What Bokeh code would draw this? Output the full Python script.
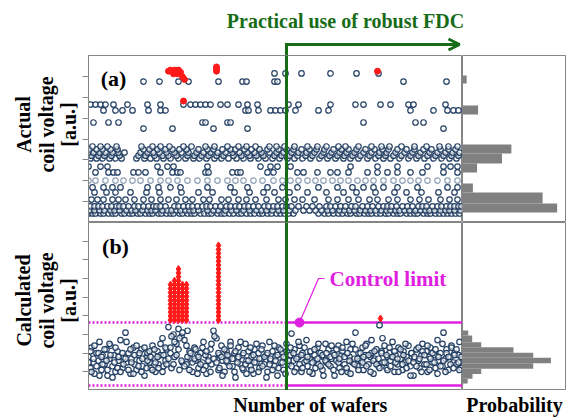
from bokeh.plotting import figure
from bokeh.layouts import column, row
from bokeh.models import FixedTicker, Arrow, OpenHead, Span, CustomJSTickFormatter
from bokeh.core.properties import value
from bokeh.embed import file_html
from bokeh.resources import INLINE

SERIF = "Liberation Serif"
NAVY = "#233f63"
LIGHT = "#8fa2b8"
RED = "#ff1a1a"
GREEN = "#176c17"
MAGENTA = "#e020e0"
HIST = "#808080"
FRAME = "#858585"

X_MAX = 374          # number of wafers (axis span)
fdc_start = 198      # wafer where robust FDC starts
control_limit = 3.64
lower_limit = 0.27

# ---------------- panel (a): actual coil voltage, rows of points ----------------
a_levels = [0.43, 0.58, 0.77, 1.10, 1.44, 1.68, 2.40, 2.68, 3.07, 3.20, 3.35, 3.50, 3.64, 4.50, 4.79, 5.37, 5.65,
            6.75, 7.14]
a_r043 = [0, 4, 7, 12, 15, 20, 24, 27, 33, 36, 41, 44, 49, 52, 57, 61, 64, 70, 73, 78, 82, 85, 91, 94, 99, 103, 106,
          112, 116, 120, 123, 129, 133, 136, 141, 145, 150, 153, 158, 162, 166, 171, 174, 179, 183, 188, 192, 196, 200,
          205, 230, 236, 240, 245, 250, 254, 259, 262, 268, 271, 276, 280, 283, 288, 292, 297, 300, 305, 309, 312, 318,
          322, 326, 329, 335, 339, 342, 347, 351, 355, 359, 363, 367, 371]
a_r058 = [1, 6, 11, 16, 22, 26, 31, 38, 43, 47, 54, 59, 63, 67, 74, 79, 83, 88, 92, 97, 101, 105, 110, 119, 125, 130,
          137, 143, 148, 155, 161, 168, 173, 178, 184, 190, 195, 201, 207, 215, 221, 227, 233, 239, 244, 251, 256, 261,
          266, 272, 277, 282, 287, 293, 298, 302, 307, 311, 316, 321, 327, 332, 337, 341, 346, 352, 357, 361, 366, 372]
a_r077 = [2, 6, 10, 14, 19, 23, 28, 31, 35, 40, 46, 50, 55, 60, 65, 68, 72, 77, 86, 90, 95, 100, 104, 109, 114, 118,
          122, 127, 132, 138, 142, 147, 151, 156, 160, 165, 170, 176, 180, 185, 189, 194, 198, 203, 210, 218, 224, 231,
          238, 242, 247, 252, 257, 263, 267, 274, 279, 284, 290, 295, 299, 303, 308, 314, 319, 324, 330, 334, 338, 344,
          349, 353, 358, 362, 366, 370, 373]
a_r110 = [3, 9, 15, 24, 30, 37, 46, 55, 63, 72, 80, 88, 97, 104, 115, 121, 133, 140, 150, 158, 167, 178, 190, 197, 206,
          214, 226, 240, 249, 260, 270, 281, 289, 300, 309, 322, 331, 340, 352, 361, 369]
a_r144 = [6, 18, 27, 42, 58, 71, 93, 110, 124, 146, 161, 175, 186, 201, 219, 238, 255, 268, 287, 306, 318, 333, 350, 366]
a_r168 = [4, 15, 24, 32, 59, 70, 82, 92, 119, 142, 159, 179, 194, 209, 230, 249, 264, 275, 285, 295, 309, 329, 359, 369]
a_r240 = [7, 20, 25, 29, 45, 50, 57, 72, 84, 89, 92, 117, 120, 144, 149, 152, 179, 185, 209, 215, 229, 242, 249, 260,
          279, 289, 299, 309, 322, 334, 355, 369]
a_r268 = [0, 12, 19, 69, 79, 85, 119, 172, 182, 189, 202, 262, 289, 309, 339, 355, 362, 369]
a_r307 = [2, 8, 14, 21, 27, 33, 48, 56, 62, 68, 75, 82, 90, 97, 105, 111, 118, 126, 133, 140, 148, 155, 162, 170, 177,
          184, 191, 199, 206, 214, 222, 231, 239, 247, 255, 262, 270, 279, 287, 295, 302, 311, 320, 328, 336, 345, 353,
          361, 368]
a_r320 = [3, 10, 16, 23, 31, 50, 57, 66, 74, 80, 88, 99, 106, 113, 120, 128, 135, 145, 153, 161, 168, 175, 186, 193,
          201, 209, 217, 224, 233, 241, 249, 256, 264, 272, 281, 290, 297, 305, 313, 322, 330, 339, 347, 355, 363, 370]
a_r335 = [0, 5, 11, 17, 24, 30, 36, 52, 59, 65, 71, 78, 86, 93, 100, 108, 115, 122, 129, 137, 144, 151, 159, 166, 173,
          181, 188, 195, 203, 210, 218, 226, 235, 243, 251, 258, 266, 275, 283, 291, 298, 307, 316, 324, 332, 341, 349,
          357, 364, 371]
a_r350 = [1, 8, 14, 22, 29, 55, 61, 69, 77, 84, 91, 98, 110, 119, 125, 134, 142, 147, 156, 163, 171, 179, 190, 198,
          205, 213, 221, 228, 236, 245, 253, 260, 268, 277, 286, 294, 300, 309, 318, 326, 335, 343, 352, 360, 367]
a_r364 = [4, 12, 19, 28, 53, 64, 72, 81, 95, 103, 117, 126, 139, 150, 158, 167, 181, 188, 196, 206, 219, 229, 238, 250,
          257, 270, 283, 293, 301, 313, 326, 338, 351, 360, 369]
a_r450 = [55, 84, 125, 159, 355]
a_r479 = [5, 20, 30, 114, 117, 139, 142, 275, 327, 335]
a_r537 = [15, 27, 34, 44, 60, 72, 77, 157, 160, 170, 182, 187, 192, 197, 207, 230, 240, 322, 345, 359, 365, 370]
a_r565 = [2, 7, 12, 17, 25, 39, 59, 72, 95, 102, 107, 112, 117, 122, 132, 139, 150, 159, 169, 200, 210, 242, 267, 275,
          292, 302, 320, 325, 357]
a_r675 = [55, 71, 90, 100, 130, 154, 158, 186, 189, 315, 358]
a_r714 = [186, 197, 213, 242, 268, 290]
a_rows = [a_r043, a_r058, a_r077, a_r110, a_r144, a_r168, a_r240, a_r268, a_r307, a_r320, a_r335, a_r350, a_r364,
          a_r450, a_r479, a_r537, a_r565, a_r675, a_r714]
# lighter row
a_light_level = 2.01
a_light_x = [0, 7, 17, 27, 35, 44, 52, 62, 72, 80, 89, 99, 109, 119, 129, 139, 147, 155, 165, 174, 185, 194, 202, 210,
             219, 227, 235, 244, 252, 260, 269, 277, 285, 295, 305, 314, 322, 330, 339, 349, 359, 369]
# faults in (a)
a_red_x = [80, 82, 84, 86, 88, 90, 92, 85, 89, 94, 96, 128, 128, 128, 95, 289]
a_red_y = [7.25, 7.3, 7.22, 7.3, 7.25, 7.3, 7.2, 7.12, 7.12, 6.98, 6.85, 7.45, 7.35, 7.25, 5.82, 7.25]

# histogram (a): probability per voltage bin
ha_bottom = [0.48, 0.91, 1.44, 2.40, 2.83, 3.31, 5.17, 6.66]
ha_top = [0.91, 1.44, 1.87, 2.83, 3.31, 3.74, 5.60, 7.04]
ha_prob = [0.91, 0.77, 0.10, 0.14, 0.38, 0.47, 0.15, 0.04]

# ---------------- panel (b): calculated coil voltage ----------------
b_x = [0, 2, 3, 5, 6, 8, 10, 11, 13, 14, 16, 18, 19, 21, 22, 24, 26, 27, 29, 30,
       32, 34, 35, 37, 38, 40, 42, 43, 45, 46, 48, 50, 51, 53, 54, 56, 58, 59, 61, 62,
       64, 66, 67, 69, 70, 72, 74, 75, 77, 78, 80, 82, 83, 85, 86, 88, 90, 91, 93, 94,
       96, 98, 99, 101, 102, 104, 106, 107, 109, 110, 112, 114, 115, 117, 118, 120, 122, 123, 125, 126,
       128, 130, 131, 133, 134, 136, 138, 139, 141, 142, 144, 146, 147, 149, 150, 152, 154, 155, 157, 158,
       160, 162, 163, 165, 166, 168, 170, 171, 173, 174, 176, 178, 179, 181, 182, 184, 186, 187, 189, 190,
       192, 194, 195, 197, 198, 200, 202, 203, 205, 206, 208, 210, 211, 213, 214, 216, 218, 219, 221, 222,
       224, 226, 227, 229, 230, 232, 234, 235, 237, 238, 240, 242, 243, 245, 246, 248, 250, 251, 253, 254,
       256, 258, 259, 261, 262, 264, 266, 267, 269, 270, 272, 274, 275, 277, 278, 280, 282, 283, 285, 286,
       288, 290, 291, 293, 294, 296, 298, 299, 301, 302, 304, 306, 307, 309, 310, 312, 314, 315, 317, 318,
       320, 322, 323, 325, 326, 328, 330, 331, 333, 334, 336, 338, 339, 341, 342, 344, 346, 347, 349, 350,
       352, 354, 355, 357, 358, 360, 362, 363, 365, 366, 368, 370, 371, 373]
b_y1 = [1.8, 1.2, 2.3, 1.5, 0.9, 2.0, 1.6, 2.6, 1.1, 1.9, 1.4, 2.2, 0.8, 1.7, 2.4, 1.3, 1.9, 1.0, 2.1, 1.6,
        2.7, 1.2, 1.8, 3.1, 1.5, 2.0, 0.9, 1.7, 2.3, 1.4, 1.1, 1.9, 1.6, 2.2, 1.3, 0.8, 1.8, 2.0, 1.5, 1.2,
        2.4, 1.7, 1.0, 2.1, 1.4, 1.9, 2.8, 1.3, 1.6, 2.2, 3.4, 2.0, 1.2, 3.0, 1.8, 2.5, 3.3, 1.1, 2.9, 1.5,
        2.7, 1.4, 3.2, 2.1, 1.7, 1.0, 2.3, 1.6, 1.9, 1.2, 2.0, 1.5, 2.6, 1.3, 0.9, 1.8, 2.2, 1.4, 3.2, 1.7,
        2.8, 1.1, 1.9, 2.4, 1.6, 1.0, 2.1, 1.5, 1.8, 2.6, 1.3, 2.0, 0.7, 1.7, 2.3, 1.4, 1.9, 1.1, 2.5, 1.6,
        2.1, 1.3, 1.8, 0.9, 2.2, 1.5, 2.0, 1.2, 1.7, 2.4, 1.4, 1.9, 1.0, 2.6, 1.6, 2.1, 1.3, 1.8, 0.8, 2.3,
        1.5, 2.0, 1.1, 1.7, 2.5, 1.4, 1.9, 3.05, 1.6, 2.2, 1.2, 1.8, 2.4, 1.0, 2.0, 1.5, 2.7, 1.3, 1.7, 2.1,
        0.9, 1.9, 1.6, 2.3, 1.4, 2.0, 1.1, 1.8, 2.5, 1.5, 2.2, 1.3, 1.7, 2.0, 0.8, 1.6, 2.4, 1.2, 1.9, 2.1,
        1.4, 2.6, 1.0, 1.8, 2.2, 1.5, 1.7, 3.1, 1.3, 2.0, 1.6, 2.3, 1.1, 1.9, 2.5, 1.4, 1.8, 2.0, 0.9, 1.7,
        2.2, 1.3, 3.5, 2.1, 1.5, 2.4, 1.2, 1.8, 2.0, 1.6, 2.6, 1.0, 1.9, 1.4, 2.3, 1.7, 1.1, 2.1, 1.5, 1.8,
        2.4, 1.3, 2.0, 0.8, 1.7, 2.2, 1.6, 1.2, 1.9, 2.5, 1.4, 2.1, 1.0, 1.8, 2.3, 1.5, 1.9, 1.2, 2.7, 1.6,
        2.0, 1.3, 3.1, 1.7, 2.2, 1.1, 1.8, 2.4, 1.5, 2.0, 1.4, 1.9, 2.6, 1.2]
b_y2 = [1.5, 2.1, 1.0, 1.7, 2.4, 1.3, 2.0, 0.8, 1.8, 1.4, 2.2, 1.6, 1.1, 2.5, 1.9, 0.7, 1.5, 2.3, 1.2, 1.8,
        1.0, 2.0, 1.4, 1.7, 2.6, 1.1, 2.2, 1.5, 0.9, 1.9, 2.4, 1.3, 2.0, 1.0, 1.7, 2.3, 1.2, 1.6, 2.1, 1.8,
        1.1, 2.2, 1.5, 1.8, 1.2, 2.5, 1.0, 1.9, 2.3, 1.4, 1.7, 2.3, 2.9, 1.4, 2.6, 1.9, 2.2, 2.8, 1.6, 3.1,
        1.3, 2.4, 1.8, 1.1, 2.0, 1.5, 1.7, 2.2, 0.9, 1.8, 1.4, 2.3, 1.1, 1.9, 2.1, 1.6, 1.0, 2.5, 1.7, 2.9,
        1.5, 2.0, 1.2, 1.8, 0.8, 2.2, 1.6, 1.9, 1.3, 2.4, 1.7, 1.0, 2.1, 1.5, 1.8, 2.6, 1.2, 2.0, 1.4, 0.9,
        1.6, 2.3, 1.1, 1.9, 1.5, 2.5, 1.0, 1.7, 2.2, 1.3, 1.8, 0.7, 2.0, 1.4, 1.7, 1.1, 2.4, 1.6, 1.9, 1.2,
        2.2, 1.5, 1.8, 0.9, 2.1, 1.6, 2.3, 1.3, 2.0, 1.0, 1.7, 2.6, 1.4, 1.9, 1.2, 2.3, 1.6, 1.8, 1.0, 2.1,
        1.5, 2.2, 1.2, 1.7, 2.5, 1.3, 1.9, 0.8, 1.6, 2.0, 1.4, 1.8, 2.4, 1.1, 1.9, 2.2, 1.5, 1.7, 1.0, 2.3,
        1.8, 1.2, 2.0, 1.6, 0.9, 2.5, 1.4, 2.2, 1.7, 1.1, 2.0, 1.5, 1.8, 2.4, 1.3, 1.9, 1.0, 2.7, 1.6, 2.1,
        1.4, 1.7, 1.2, 2.0, 2.8, 1.5, 1.9, 1.1, 2.3, 1.3, 1.8, 2.1, 1.5, 1.7, 1.0, 2.2, 1.4, 1.9, 2.5, 1.2,
        1.6, 0.8, 2.0, 1.5, 1.8, 1.3, 2.3, 1.7, 1.0, 2.1, 1.9, 1.4, 2.4, 1.1, 1.7, 2.0, 1.5, 2.2, 0.9, 1.8,
        1.3, 2.5, 1.6, 1.0, 2.0, 1.8, 1.4, 2.3, 1.2, 1.9, 2.2, 1.5, 1.1, 1.8]
# faults in (b): stacked red points above the control limit
b_red_x = [82, 82, 82, 82, 82, 82, 82, 82, 82, 82,
           86, 86, 86, 86, 86, 86, 86, 86, 86, 86, 86,
           90, 90, 90, 90, 90, 90, 90, 90, 90, 90, 90, 90, 90, 90,
           94, 94, 94, 94, 94, 94, 94, 94, 94, 94,
           98, 98, 98, 98, 98, 98, 98, 98, 98, 98,
           130, 130, 130, 130, 130, 130, 130, 130, 130, 130, 130, 130, 130, 130, 130, 130, 130, 130, 130, 130,
           292]
b_red_y = [3.78, 3.99, 4.2, 4.41, 4.62, 4.83, 5.04, 5.25, 5.46, 5.67,
           3.78, 3.99, 4.2, 4.41, 4.62, 4.83, 5.04, 5.25, 5.46, 5.67, 5.88,
           3.78, 3.99, 4.2, 4.41, 4.62, 4.83, 5.04, 5.25, 5.46, 5.67, 5.88, 6.09, 6.3, 6.51,
           3.78, 3.99, 4.2, 4.41, 4.62, 4.83, 5.04, 5.25, 5.46, 5.67,
           3.78, 3.99, 4.2, 4.41, 4.62, 4.83, 5.04, 5.25, 5.46, 5.67,
           3.78, 3.99, 4.2, 4.41, 4.62, 4.83, 5.04, 5.25, 5.46, 5.67, 5.88, 6.09, 6.3, 6.51, 6.72, 6.93, 7.14,
           7.35, 7.56, 7.77,
           3.86]

# histogram (b)
hb_bottom = [0.37, 0.63, 0.89, 1.16, 1.46, 1.75, 2.02, 2.32, 2.59, 2.95]
hb_top = [0.63, 0.89, 1.16, 1.46, 1.75, 2.02, 2.32, 2.59, 2.95, 3.21]
hb_prob = [0.05, 0.096, 0.18, 0.68, 0.85, 0.68, 0.49, 0.18, 0.093, 0.055]

# ---------------- texts ----------------
title_text = "Practical use of robust FDC"
ylabel_a = ["Actual", "coil voltage", "[a.u.]"]
ylabel_b = ["Calculated", "coil voltage", "[a.u.]"]
xlabel_main = "Number of wafers"
xlabel_hist = "Probability"
limit_text = "Control limit"

LAB_W = 82
TICK_W = 6
SC_W = TICK_W + X_MAX   # 380
H_W = 104
TOTAL_W = LAB_W + SC_W + H_W  # 566
X_OFF = LAB_W + TICK_W        # 88
HEAD_H = 55
A_H = 167
B_H = 168
FOOT_H = 28


def base(width, height, xr, yr):
    p = figure(width=width, height=height, x_range=xr, y_range=yr, toolbar_location=None,
               output_backend="svg", min_border=0, min_border_left=0, min_border_right=0,
               min_border_top=0, min_border_bottom=0, x_axis_location=None, y_axis_location=None)
    p.xgrid.visible = False
    p.ygrid.visible = False
    p.outline_line_color = None
    return p


def scatter_panel(height, yr, ticks):
    p = figure(width=SC_W, height=height, x_range=(0, X_MAX), y_range=yr, toolbar_location=None,
               output_backend="svg", min_border=0, min_border_left=TICK_W, min_border_right=0,
               min_border_top=0, min_border_bottom=0, x_axis_location=None)
    p.xgrid.visible = False
    p.ygrid.visible = False
    p.outline_line_color = FRAME
    ax = p.yaxis[0]
    ax.ticker = FixedTicker(ticks=ticks)
    ax.formatter = CustomJSTickFormatter(code="return ''")
    ax.major_tick_out = 6
    ax.major_tick_in = 0
    ax.minor_tick_line_color = None
    ax.major_tick_line_color = FRAME
    ax.axis_line_color = FRAME
    ax.major_label_text_font_size = "1px"
    ax.major_label_text_color = None
    ax.major_label_standoff = 0
    return p


def label_panel(height, lines, yc):
    p = base(LAB_W, height, (0, LAB_W), (0, height))
    p.text(x=[23, 46, 68], y=[yc, yc, yc], text=lines, angle=1.5708, text_font=value(SERIF),
           text_font_style="bold", text_font_size="20px", text_color="black", text_align="center",
           text_baseline="middle")
    return p


# header
head = base(TOTAL_W, HEAD_H, (-X_OFF, X_MAX + H_W), (0, HEAD_H))
head.text(x=[257], y=[35], text=[title_text], text_font=value(SERIF), text_font_style="bold",
          text_font_size="20px", text_color=GREEN, text_align="center", text_baseline="middle")
head.segment(x0=[fdc_start], y0=[0], x1=[fdc_start], y1=[12.4], line_color=GREEN, line_width=3)
head.add_layout(Arrow(end=OpenHead(size=11, line_color=GREEN, line_width=3), x_start=fdc_start - 1.4, y_start=11,
                      x_end=371, y_end=11, line_color=GREEN, line_width=3))

# panel (a)
la = label_panel(A_H, ylabel_a, 98)
pa = scatter_panel(A_H, (0, 8), [1, 2, 3, 4, 5, 6, 7])
a_x, a_y = [], []
for lvl, xs in zip(a_levels, a_rows):
    a_x.extend(xs)
    a_y.extend([lvl] * len(xs))
pa.scatter(a_light_x, [a_light_level] * len(a_light_x), marker="circle", size=5.5, fill_color="white",
           line_color=LIGHT, line_width=1.2)
pa.scatter(a_x, a_y, marker="circle", size=5.5, fill_color="white", fill_alpha=0.6, line_color=NAVY, line_width=1.2)
pa.scatter(a_red_x, a_red_y, marker="circle", size=6, fill_color=RED, line_color=RED)
pa.text(x=[25], y=[6.9], text=["(a)"], text_font=value(SERIF), text_font_style="bold", text_font_size="22px",
        text_color="black", text_align="center", text_baseline="middle")
pa.add_layout(Span(location=fdc_start, dimension="height", line_color=GREEN, line_width=3))

ha = base(H_W, A_H, (0, 1), (0, 8))
ha.outline_line_color = FRAME
ha.quad(left=0, right=ha_prob, bottom=ha_bottom, top=ha_top, fill_color=HIST, line_color=None)

# panel (b)
lb = label_panel(B_H, ylabel_b, 90)
pb = scatter_panel(B_H, (0, 9), [1, 2, 3, 4, 5, 6, 7, 8])
pb.segment(x0=[0, 0], y0=[control_limit, lower_limit], x1=[fdc_start, fdc_start], y1=[control_limit, lower_limit],
           line_color=MAGENTA, line_width=2.5, line_dash="2 2")
pb.segment(x0=[fdc_start, fdc_start], y0=[control_limit, lower_limit], x1=[X_MAX, X_MAX],
           y1=[control_limit, lower_limit], line_color=MAGENTA, line_width=2.5)
pb.scatter(b_x, b_y1, marker="circle", size=5.5, fill_color="white", fill_alpha=0.6, line_color=NAVY, line_width=1.2)
pb.scatter(b_x, b_y2, marker="circle", size=5.5, fill_color="white", fill_alpha=0.6, line_color=NAVY, line_width=1.2)
pb.scatter(b_red_x, b_red_y, marker="diamond", size=7, fill_color=RED, line_color=RED)
pb.line(x=[211, 230, 236], y=[control_limit, 6.0, 6.0], line_color=MAGENTA, line_width=1.2)
pb.scatter([211], [control_limit], marker="circle", size=9, fill_color=MAGENTA, line_color=MAGENTA)
pb.text(x=[241], y=[6.0], text=[limit_text], text_font=value(SERIF), text_font_style="bold", text_font_size="21px",
        text_color=MAGENTA, text_align="left", text_baseline="middle")
pb.text(x=[27], y=[7.71], text=["(b)"], text_font=value(SERIF), text_font_style="bold", text_font_size="22px",
        text_color="black", text_align="center", text_baseline="middle")
pb.add_layout(Span(location=fdc_start, dimension="height", line_color=GREEN, line_width=3))

hb = base(H_W, B_H, (0, 1), (0, 9))
hb.outline_line_color = FRAME
hb.quad(left=0, right=hb_prob, bottom=hb_bottom, top=hb_top, fill_color=HIST, line_color=None)

# footer
foot = base(TOTAL_W, FOOT_H, (-X_OFF, X_MAX + H_W), (0, FOOT_H))
foot.text(x=[222, 426], y=[14, 14], text=[xlabel_main, xlabel_hist], text_font=value(SERIF), text_font_style="bold",
          text_font_size="20px", text_color="black", text_align="center", text_baseline="middle")

layout = column(head, row(la, pa, ha), row(lb, pb, hb), foot)
open("out.html", "w").write(file_html(layout, INLINE))
